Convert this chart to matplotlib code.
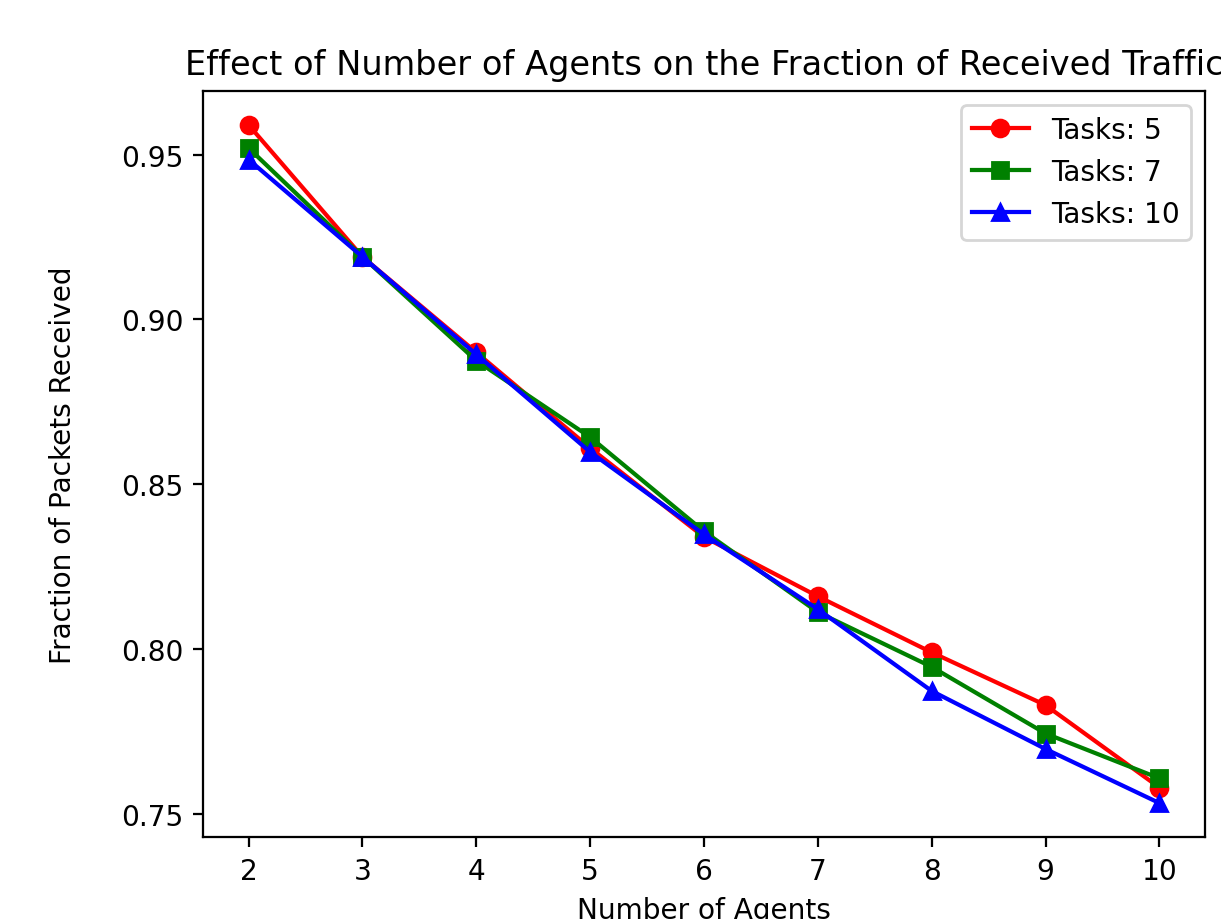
import matplotlib
matplotlib.use('Agg')
import matplotlib.pyplot as plt

agents = [2, 3, 4, 5, 6, 7, 8, 9, 10]

tasks_5 = [0.959, 0.919, 0.890, 0.861, 0.834, 0.816, 0.799, 0.783, 0.758]
tasks_7 = [0.952, 0.919, 0.8875, 0.8643, 0.8357, 0.8112, 0.7946, 0.7744, 0.7608]
tasks_10 = [0.9485, 0.919, 0.8894, 0.8598, 0.8348, 0.8121, 0.7873, 0.7697, 0.7533]

dpi = 202
fig = plt.figure(figsize=(1221 / dpi, 920 / dpi), dpi=dpi)
ax = fig.add_axes([203 / 1221, (920 - 838) / 920, (1205 - 203) / 1221, (838 - 92) / 920])

ax.plot(agents, tasks_5, marker='o', linestyle='-', color='r', label='Tasks: 5')
ax.plot(agents, tasks_7, marker='s', linestyle='-', color='g', label='Tasks: 7')
ax.plot(agents, tasks_10, marker='^', linestyle='-', color='b', label='Tasks: 10')

ax.set_xlabel('Number of Agents')
# ylabel sits further out in the original
ax.set_ylabel('Fraction of Packets Received', labelpad=15.5)
ax.set_title('Effect of Number of Agents on the Fraction of Received Traffic')
ax.legend(loc='upper right')

fig.savefig('out.png', dpi=dpi)
